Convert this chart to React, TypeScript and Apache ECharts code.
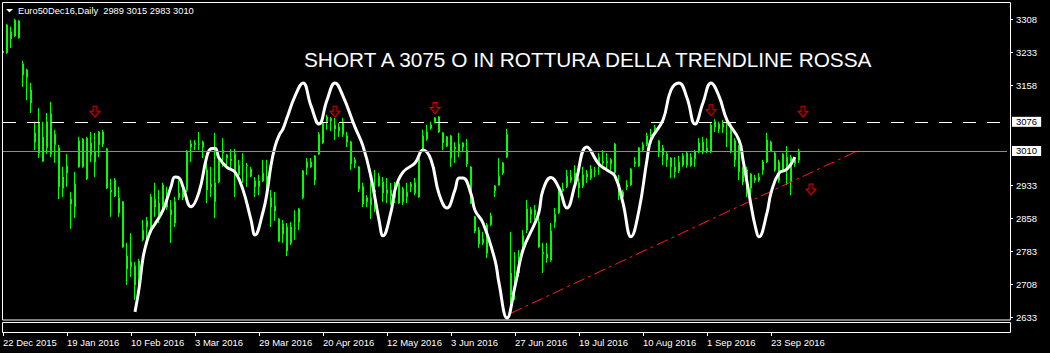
import React, { useEffect, useRef } from 'react';
import * as echarts from 'echarts';

const dateLabels = ['22 Dec 2015', '19 Jan 2016', '10 Feb 2016', '3 Mar 2016', '29 Mar 2016', '20 Apr 2016', '12 May 2016', '3 Jun 2016', '27 Jun 2016', '19 Jul 2016', '10 Aug 2016', '1 Sep 2016', '23 Sep 2016'];
const labelStep = 16;
const barSlots = 252;
const priceTicks = [2633, 2708, 2783, 2858, 2933, 3158, 3233, 3308];
const resistance = 3076;
const lastPrice = 3010;
const headerText = 'Euro50Dec16,Daily  2989 3015 2983 3010';
const noteText = 'SHORT A 3075 O IN ROTTURA DELLA TRENDLINE ROSSA';

// open, high, low, close
const ohlc: number[][] = [
  [3232, 3245, 3178, 3236], [3232, 3297, 3230, 3295], [3279, 3291, 3243, 3264], [3270, 3309, 3268, 3306], [3304, 3306, 3264, 3266],
  [3207, 3214, 3155, 3182], [3193, 3196, 3125, 3177], [3148, 3164, 3096, 3119], [3051, 3076, 3012, 3030], [3073, 3107, 2994, 3005],
  [2987, 3076, 2985, 3042], [3017, 3096, 3003, 3076], [3094, 3121, 2996, 3003], [3024, 3058, 2983, 3048], [3017, 3024, 2901, 2929],
  [2951, 2974, 2906, 2926], [2960, 3003, 2929, 2976], [2901, 2917, 2834, 2890], [2883, 2963, 2858, 2935], [2974, 3042, 2972, 3033],
  [2974, 3039, 2972, 3037], [3039, 3042, 2944, 2947], [3001, 3053, 2985, 3028], [3008, 3051, 2951, 2985], [3024, 3055, 2996, 3053],
  [3053, 3058, 3019, 3026], [3015, 3017, 2924, 2926], [2922, 2947, 2861, 2917], [2908, 2949, 2906, 2944], [2904, 2929, 2861, 2870],
  [2895, 2897, 2791, 2793], [2772, 2802, 2707, 2743], [2748, 2824, 2725, 2759], [2750, 2759, 2673, 2707], [2725, 2766, 2695, 2761],
  [2809, 2854, 2806, 2831], [2838, 2861, 2809, 2852], [2827, 2913, 2824, 2906], [2901, 2938, 2861, 2883], [2892, 2922, 2847, 2867],
  [2883, 2938, 2881, 2933], [2906, 2929, 2877, 2883], [2877, 2899, 2802, 2865], [2847, 2906, 2838, 2895], [2904, 2944, 2899, 2915],
  [2915, 2940, 2899, 2904], [2922, 3012, 2917, 3008], [3019, 3035, 2985, 3026], [3024, 3035, 3012, 3028], [3026, 3053, 3012, 3025],
  [3030, 3033, 2994, 3019], [2967, 3005, 2892, 2922], [2929, 2974, 2906, 2935], [2895, 3051, 2858, 2938], [2940, 2998, 2937, 2996],
  [3005, 3039, 2974, 3012], [3001, 3003, 2972, 2994], [2992, 3014, 2967, 2988], [3003, 3015, 2906, 2960], [2956, 2990, 2951, 2978],
  [2976, 3005, 2938, 2977], [2977, 2983, 2929, 2976], [2969, 2974, 2951, 2953], [2942, 2951, 2906, 2929], [2929, 2956, 2910, 2942],
  [2942, 2990, 2940, 2960], [2953, 2990, 2920, 2922], [2904, 2922, 2838, 2883], [2874, 2917, 2852, 2886], [2856, 2858, 2804, 2806],
  [2822, 2854, 2802, 2845], [2838, 2847, 2772, 2784], [2802, 2849, 2797, 2838], [2836, 2876, 2809, 2835], [2849, 2881, 2831, 2879],
  [2904, 2967, 2901, 2965], [2972, 2994, 2956, 2985], [2985, 2994, 2972, 2974], [2944, 3001, 2933, 2999], [3003, 3053, 3001, 3048],
  [3028, 3085, 3026, 3073], [3076, 3092, 3058, 3087], [3083, 3087, 3055, 3078], [3069, 3085, 3035, 3060], [3064, 3073, 3042, 3055],
  [3048, 3085, 3042, 3076], [3044, 3053, 3019, 3030], [3030, 3033, 2967, 2981], [2983, 2996, 2971, 2990], [2974, 2976, 2917, 2924],
  [2929, 2938, 2883, 2890], [2895, 2910, 2883, 2904], [2904, 2938, 2856, 2888], [2917, 2967, 2872, 2922], [2931, 2960, 2929, 2953],
  [2940, 2951, 2895, 2915], [2913, 2949, 2892, 2922], [2922, 2938, 2888, 2908], [2904, 2940, 2892, 2915], [2892, 2940, 2890, 2938],
  [2924, 2929, 2888, 2895], [2906, 2938, 2892, 2917], [2929, 2940, 2917, 2935], [2938, 2949, 2910, 2915], [2906, 2996, 2904, 2994],
  [3012, 3058, 3008, 3044], [3037, 3069, 3033, 3053], [3062, 3076, 3058, 3069], [3076, 3087, 3073, 3085], [3087, 3089, 3051, 3053],
  [3051, 3053, 3012, 3028], [3021, 3044, 3019, 3042], [3044, 3046, 2974, 2994], [3015, 3030, 2983, 3019], [3008, 3051, 2996, 3026],
  [3019, 3030, 3008, 3028], [3012, 3037, 2974, 2981], [2974, 2976, 2890, 2892], [2861, 2863, 2824, 2829], [2831, 2838, 2791, 2800],
  [2802, 2827, 2797, 2811], [2779, 2847, 2768, 2843], [2843, 2870, 2840, 2863], [2920, 2933, 2906, 2931], [2933, 2994, 2931, 2953],
  [2960, 2985, 2956, 2983], [2996, 3060, 2994, 3048], [2734, 2827, 2666, 2684], [2711, 2781, 2673, 2718], [2734, 2786, 2725, 2770],
  [2797, 2831, 2786, 2818], [2831, 2899, 2824, 2879], [2877, 2883, 2847, 2867], [2865, 2888, 2854, 2877], [2849, 2877, 2791, 2793],
  [2777, 2802, 2734, 2781], [2777, 2802, 2757, 2768], [2763, 2847, 2759, 2829], [2849, 2881, 2836, 2867], [2870, 2929, 2867, 2922],
  [2920, 2938, 2917, 2924], [2929, 2967, 2926, 2953], [2951, 2967, 2938, 2944], [2938, 2978, 2929, 2960], [2938, 2949, 2904, 2926],
  [2931, 2974, 2926, 2956], [2951, 2967, 2938, 2958], [2949, 2978, 2944, 2969], [2965, 2974, 2951, 2964], [2974, 3005, 2956, 2996],
  [2987, 3012, 2974, 2983], [2983, 3005, 2967, 2987], [2990, 2994, 2967, 2981], [3026, 3028, 2956, 2960], [2933, 2956, 2899, 2910],
  [2917, 2922, 2883, 2906], [2929, 2944, 2922, 2933], [2933, 2972, 2931, 2969], [2981, 2996, 2974, 2985], [2976, 3019, 2974, 3017],
  [3012, 3030, 3008, 3024], [3024, 3051, 3021, 3044], [3042, 3060, 3035, 3048], [3060, 3069, 3051, 3063], [3033, 3035, 2996, 3008],
  [3017, 3024, 2978, 3001], [3003, 3008, 2974, 2990], [2994, 2996, 2949, 2974], [2963, 2996, 2949, 2974], [2965, 2999, 2960, 2985],
  [2978, 3005, 2974, 2999], [3005, 3008, 2972, 2978], [2978, 3005, 2974, 2996], [2992, 3012, 2974, 3008], [3008, 3039, 3005, 3028],
  [3030, 3042, 3003, 3008], [3010, 3039, 3005, 3017], [3008, 3073, 3005, 3069], [3064, 3082, 3053, 3076], [3071, 3076, 3051, 3060],
  [3064, 3080, 3051, 3071], [3069, 3080, 3019, 3076], [3069, 3073, 3005, 3008], [3033, 3039, 2974, 2990], [3019, 3024, 2944, 2963],
  [2965, 2974, 2933, 2940], [2947, 2974, 2906, 2967], [2958, 2960, 2910, 2926], [2944, 2956, 2938, 2949], [2944, 2960, 2940, 2951],
  [2967, 2990, 2956, 2985], [2985, 3051, 2983, 3035], [3010, 3033, 3008, 3030], [3005, 3008, 2963, 2967], [2985, 2990, 2938, 2944],
  [2967, 3005, 2963, 3003], [2996, 3021, 2933, 2976], [2940, 3001, 2910, 2996], [2981, 2996, 2974, 2990], [2989, 3015, 2983, 3010],
];

// white smoothed indicator: [bar index, price]
const curve: number[][] = [
  [33, 2646], [34, 2698], [35, 2768], [36, 2806], [37, 2831], [38, 2845], [40, 2876], [42, 2929], [43, 2951], [44, 2949],
  [45, 2929], [47, 2884], [49, 2917], [51, 2999], [52, 3015], [53, 3016], [54, 2994], [56, 2973], [58, 2962], [60, 2922],
  [62, 2854], [63, 2820], [65, 2872], [66, 2915], [67, 2978], [68, 3020], [69, 3045], [70, 3060], [71, 3085], [73, 3134],
  [75, 3164], [77, 3112], [79, 3071], [81, 3125], [83, 3164], [85, 3134], [88, 3064], [90, 3021], [92, 2951], [94, 2854],
  [95, 2818], [97, 2872], [98, 2922], [100, 2962], [103, 2983], [105, 3012], [107, 2990], [109, 2913], [111, 2881], [113, 2922],
  [114, 2949], [115, 2949], [117, 2913], [118, 2876], [120, 2847], [123, 2763], [124, 2711], [126, 2632], [128, 2704], [130, 2786],
  [133, 2847], [134, 2872], [135, 2922], [137, 2950], [139, 2926], [141, 2881], [143, 2933], [146, 3019], [149, 2980], [151, 2967],
  [153, 2953], [155, 2892], [157, 2816], [159, 2876], [161, 2990], [162, 3035], [165, 3080], [167, 3148], [169, 3164], [171, 3130],
  [173, 3071], [175, 3119], [177, 3164], [179, 3134], [181, 3080], [184, 3035], [185, 2990], [187, 2888], [188, 2842], [189, 2816],
  [191, 2870], [192, 2915], [194, 2960], [196, 2969], [198, 2996],
];

const trendline: number[][] = [[127, 2643], [214, 3012]];
const arrows: number[][] = [[23, 3099], [83, 3099], [108, 3107], [177, 3102], [200, 3099], [202, 2923]];

const FONT = '"Liberation Sans", Arial, sans-serif';

export default function App() {
  const ref = useRef<HTMLDivElement>(null);
  useEffect(() => {
    if (!ref.current) return;
    const chart = echarts.init(ref.current, undefined, { renderer: 'svg' });
    const categories = Array.from({ length: barSlots }, (_, i) => String(i));
    const showTick = (i: number) => i % labelStep === 0 && i / labelStep < dateLabels.length;
    const candleData = ohlc.map(([o, h, l, c]) => [o, c, l, h]);
    const boxLabel = (txt: string) => ({
      show: true,
      position: 'end',
      formatter: txt,
      color: '#000',
      backgroundColor: '#fff',
      fontFamily: FONT,
      fontSize: 9.5,
      lineHeight: 10,
      padding: [0, 4, 0, 4],
      distance: 5,
    });
    chart.setOption({
      animation: false,
      backgroundColor: '#000',
      grid: { left: 3, top: 2, width: 4 * (barSlots - 1), height: 318, containLabel: false },
      xAxis: {
        type: 'category',
        data: categories,
        boundaryGap: false,
        offset: 12,
        axisLine: { show: false },
        axisTick: { show: true, length: 4, interval: (i: number) => showTick(i), lineStyle: { color: '#fff' } },
        axisLabel: {
          show: true,
          interval: (i: number) => showTick(i),
          formatter: (_v: string, i: number) => dateLabels[i / labelStep] ?? '',
          align: 'left',
          margin: 5,
          color: '#fff',
          fontFamily: FONT,
          fontSize: 9.5,
        },
        splitLine: { show: false },
      },
      yAxis: {
        type: 'value',
        position: 'right',
        offset: 3,
        min: 2627.6,
        max: 3347.1,
        scale: true,
        axisLine: { show: false },
        splitLine: { show: false },
        axisTick: { show: true, length: 3, customValues: priceTicks, lineStyle: { color: '#fff' } },
        axisLabel: {
          show: true,
          customValues: priceTicks,
          formatter: (v: number) => String(Math.round(v)),
          margin: 6,
          color: '#fff',
          fontFamily: FONT,
          fontSize: 9.5,
        },
      },
      series: [
        {
          type: 'candlestick',
          data: candleData,
          barWidth: 2,
          itemStyle: {
            color: '#000',
            color0: '#fff',
            borderColor: '#00ff00',
            borderColor0: '#00ff00',
            borderColorDoji: '#00ff00',
            borderWidth: 1,
          },
          markLine: {
            silent: true,
            symbol: 'none',
            animation: false,
            data: [
              { yAxis: resistance, lineStyle: { color: '#fff', width: 1, type: [13, 11] }, label: boxLabel(String(resistance)) },
              { yAxis: lastPrice, lineStyle: { color: '#8c8c8c', width: 1, type: 'solid' }, label: boxLabel(String(lastPrice)) },
            ],
          },
          z: 2,
        },
        {
          type: 'line',
          data: trendline,
          symbol: 'none',
          lineStyle: { color: '#ff1a1a', width: 1, type: [12, 4, 3, 4] },
          z: 3,
        },
        {
          type: 'line',
          data: curve,
          smooth: 0.45,
          symbol: 'none',
          lineStyle: { color: '#fff', width: 3 },
          z: 4,
        },
        {
          type: 'scatter',
          data: arrows,
          symbol: 'path://M3,0 L7,0 L7,5 L10,5 L5,11 L0,5 L3,5 Z',
          symbolSize: [10, 11],
          itemStyle: { color: '#2a0000', borderColor: '#d40000', borderWidth: 1, opacity: 1 },
          z: 5,
        },
      ],
      graphic: [
        { type: 'rect', shape: { x: 2.5, y: 2.5, width: 1008, height: 317.5 }, style: { fill: 'none', stroke: '#fff', lineWidth: 1 }, z: 10 },
        { type: 'rect', shape: { x: 2.5, y: 322.5, width: 1008, height: 10 }, style: { fill: 'none', stroke: '#fff', lineWidth: 1 }, z: 10 },
        { type: 'polygon', shape: { points: [[6, 9], [13, 9], [9.5, 12.5]] }, style: { fill: '#fff' }, z: 10 },
        {
          type: 'text', x: 18, y: 11,
          style: { text: headerText, fill: '#fff', font: `9.3px ${FONT}`, verticalAlign: 'middle', align: 'left' },
          z: 10,
        },
        {
          type: 'text', x: 304, y: 59.5,
          style: { text: noteText, fill: '#fff', font: `20.8px ${FONT}`, verticalAlign: 'middle', align: 'left' },
          z: 10,
        },
      ],
    });
    return () => chart.dispose();
  }, []);
  return (
    <div
      ref={ref}
      style={{ position: 'fixed', left: 0, top: 0, width: 1050, height: 353, background: '#000' }}
    />
  );
}
